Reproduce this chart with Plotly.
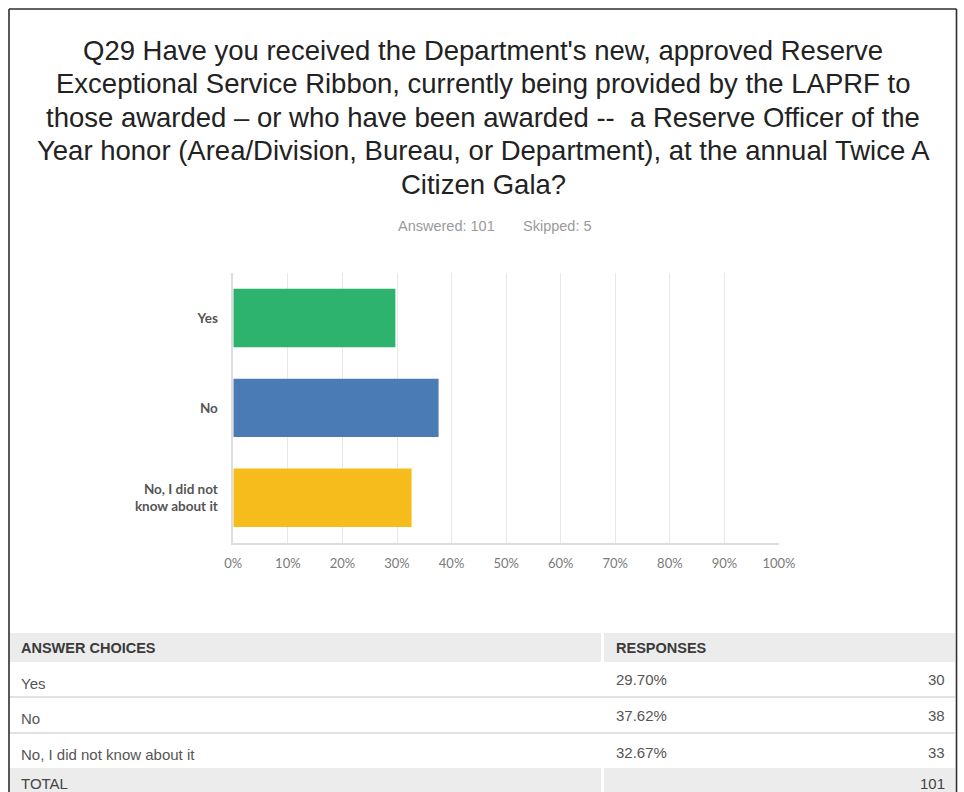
import plotly.graph_objects as go

W, H = 964, 792

# ---- survey data ----
question_lines = [
    "Q29 Have you received the Department's new, approved Reserve",
    "Exceptional Service Ribbon, currently being provided by the LAPRF to",
    "those awarded \u2013 or who have been awarded --  a Reserve Officer of the",
    "Year honor (Area/Division, Bureau, or Department), at the annual Twice A",
    "Citizen Gala?",
]
choices = ["Yes", "No", "No, I did not know about it"]
axis_labels = ["Yes", "No", "No, I did not<br>know about it"]
percentages = [29.70, 37.62, 32.67]
counts = [30, 38, 33]
answered = 101
skipped = 5
bar_colors = ["#2db36d", "#4b7bb4", "#f5bc1c"]
x_ticks = list(range(0, 101, 10))
x_tick_text = [f"{t}%" for t in x_ticks]


def px_x(p):
    return p / W


def px_y(p):
    return 1 - p / H


fig = go.Figure()
fig.add_trace(go.Bar(
    y=axis_labels,
    x=percentages,
    orientation="h",
    marker=dict(color=bar_colors, line=dict(width=0)),
    width=0.65,
    hoverinfo="skip",
))

shapes = []
annotations = []

# outer frame (open at the bottom)
frame = dict(color="#2e2e2e", width=1.6)
shapes.append(dict(type="line", xref="paper", yref="paper",
                   x0=px_x(9), x1=px_x(956.5), y0=px_y(9), y1=px_y(9), line=frame))
shapes.append(dict(type="line", xref="paper", yref="paper",
                   x0=px_x(9), x1=px_x(9), y0=px_y(9), y1=px_y(H + 5), line=frame))
shapes.append(dict(type="line", xref="paper", yref="paper",
                   x0=px_x(956.5), x1=px_x(956.5), y0=px_y(9), y1=px_y(H + 5), line=frame))

# question title, one annotation per line
title_font = dict(family="Liberation Sans", size=27.5, color="#222222")
for i, line in enumerate(question_lines):
    annotations.append(dict(
        text=line, xref="paper", yref="paper", x=px_x(483), y=px_y(50.5 + 33.4 * i),
        xanchor="center", yanchor="middle", showarrow=False,
        font=title_font,
    ))

sub_font = dict(family="Liberation Sans", size=14.5, color="#9a9a9a")
annotations.append(dict(
    text=f"Answered: {answered}", xref="paper", yref="paper", x=px_x(446), y=px_y(226),
    xanchor="center", yanchor="middle", showarrow=False, font=sub_font,
))
annotations.append(dict(
    text=f"Skipped: {skipped}", xref="paper", yref="paper", x=px_x(557), y=px_y(226),
    xanchor="center", yanchor="middle", showarrow=False, font=sub_font,
))

# ---- summary table ----
band = "#ececec"
left_x0, split_l, split_r, right_x1 = 10, 601, 604, 955
header_top, header_bot = 633, 662
row_lines = [697, 733]
total_top = 768

for (a, b) in [(left_x0, split_l), (split_r, right_x1)]:
    shapes.append(dict(type="rect", xref="paper", yref="paper", layer="below",
                       x0=px_x(a), x1=px_x(b), y0=px_y(header_top), y1=px_y(header_bot),
                       fillcolor=band, line=dict(width=0)))
    shapes.append(dict(type="rect", xref="paper", yref="paper", layer="below",
                       x0=px_x(a), x1=px_x(b), y0=px_y(total_top), y1=px_y(H + 5),
                       fillcolor=band, line=dict(width=0)))
for ly in row_lines:
    shapes.append(dict(type="line", xref="paper", yref="paper",
                       x0=px_x(left_x0), x1=px_x(right_x1), y0=px_y(ly), y1=px_y(ly),
                       line=dict(color="#e2e2e2", width=2)))

tfont = dict(family="Liberation Sans", size=15, color="#555555")
hfont = dict(family="Liberation Sans", size=14.5, color="#3a3a3a", weight="bold")
total_font = dict(family="Liberation Sans", size=15, color="#444444")

annotations.append(dict(text="ANSWER CHOICES", xref="paper", yref="paper",
                        x=px_x(19), y=px_y(648), xanchor="left", yanchor="middle",
                        showarrow=False, font=hfont))
annotations.append(dict(text="RESPONSES", xref="paper", yref="paper",
                        x=px_x(614), y=px_y(648), xanchor="left", yanchor="middle",
                        showarrow=False, font=hfont))

label_rows = [683, 718, 754]
value_rows = [679, 715, 752]
for name, pct, n, ly, vy in zip(choices, percentages, counts, label_rows, value_rows):
    annotations.append(dict(text=name, xref="paper", yref="paper", x=px_x(19), y=px_y(ly),
                            xanchor="left", yanchor="middle", showarrow=False, font=tfont))
    annotations.append(dict(text=f"{pct:.2f}%", xref="paper", yref="paper", x=px_x(614),
                            y=px_y(vy), xanchor="left", yanchor="middle", showarrow=False,
                            font=tfont))
    annotations.append(dict(text=str(n), xref="paper", yref="paper", x=px_x(947),
                            y=px_y(vy), xanchor="right", yanchor="middle", showarrow=False,
                            font=tfont))

annotations.append(dict(text="TOTAL", xref="paper", yref="paper", x=px_x(19), y=px_y(783.5),
                        xanchor="left", yanchor="middle", showarrow=False, font=total_font))
annotations.append(dict(text=str(sum(counts)), xref="paper", yref="paper", x=px_x(947),
                        y=px_y(783.5), xanchor="right", yanchor="middle", showarrow=False,
                        font=total_font))

fig.update_layout(
    width=W, height=H, autosize=False,
    margin=dict(l=0, r=0, t=0, b=0, pad=0, autoexpand=False),
    paper_bgcolor="white", plot_bgcolor="white",
    showlegend=False,
    shapes=shapes, annotations=annotations,
    xaxis=dict(
        domain=[px_x(233.3), px_x(779)],
        range=[0, 100], tickvals=x_ticks, ticktext=x_tick_text,
        showgrid=True, gridcolor="#e8e8e8", gridwidth=1,
        zeroline=False, showline=True, linecolor="#dddddd", linewidth=1.5,
        ticks="", ticklabelstandoff=8,
        tickfont=dict(family="Lato", size=13, color="#7a7a7a"),
        fixedrange=True, automargin=False,
    ),
    yaxis=dict(
        domain=[px_y(542.7), px_y(273)],
        categoryorder="array", categoryarray=axis_labels, autorange="reversed",
        showgrid=False, zeroline=False, showline=True, linecolor="#dddddd", linewidth=1.5,
        ticks="", ticklabelstandoff=11,
        tickfont=dict(family="Lato", size=13.5, color="#555555", weight="bold"),
        fixedrange=True, automargin=False,
    ),
    bargap=0.35,
)

fig.write_html("out.html")
